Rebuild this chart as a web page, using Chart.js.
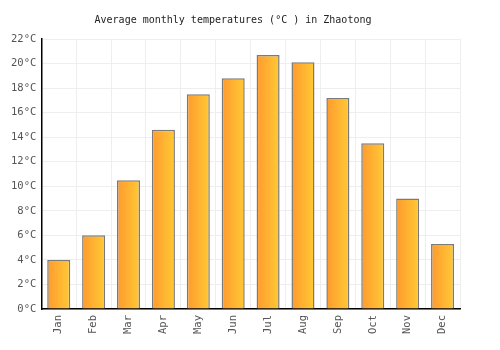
<!DOCTYPE html>
<html>
<head>
<meta charset="utf-8">
<script src="https://cdn.jsdelivr.net/npm/chart.js@4/dist/chart.umd.min.js"></script>
<style>
  html, body { margin: 0; padding: 0; background: #fff; }
  #wrap { width: 500px; height: 350px; }
</style>
</head>
<body>
<div id="wrap"><canvas id="tempChart"></canvas></div>
<script>
const months = ["Jan", "Feb", "Mar", "Apr", "May", "Jun", "Jul", "Aug", "Sep", "Oct", "Nov", "Dec"];
const temps = [4.0, 6.0, 10.5, 14.6, 17.5, 18.8, 20.7, 20.1, 17.2, 13.5, 9.0, 5.3];
const yTicks = [0, 2, 4, 6, 8, 10, 12, 14, 16, 18, 20, 22];
const titleText = "Average monthly temperatures (°C ) in Zhaotong";

const barPct = 0.66;
const tickFont = "10.5px 'DejaVu Sans Mono'";

// horizontal orange -> yellow gradient, one per bar
function barGradient(context) {
  const chart = context.chart;
  const x = chart.scales.x;
  if (!x || context.dataIndex === undefined) return "#ffb030";
  const center = x.getPixelForValue(context.dataIndex);
  const half = (x.width / months.length) * barPct / 2;
  if (!isFinite(center) || !isFinite(half) || half <= 0) return "#ffb030";
  const g = chart.ctx.createLinearGradient(center - half, 0, center + half, 0);
  g.addColorStop(0, "#ff9a2e");
  g.addColorStop(1, "#ffca35");
  return g;
}

// month labels read bottom-to-top, which chart.js rotation can't do
const upLabels = {
  id: "upLabels",
  afterDraw(chart) {
    const c = chart.ctx;
    const x = chart.scales.x;
    const bottom = chart.chartArea.bottom;
    c.save();
    c.font = tickFont;
    c.fillStyle = "#555";
    c.textAlign = "right";
    c.textBaseline = "middle";
    months.forEach((m, i) => {
      c.save();
      c.translate(x.getPixelForValue(i), bottom + 6);
      c.rotate(-Math.PI / 2);
      c.fillText(m, 0, 0);
      c.restore();
    });
    c.restore();
  }
};

const ctx = document.getElementById("tempChart").getContext("2d");
new Chart(ctx, {
  type: "bar",
  data: {
    labels: months,
    datasets: [{
      data: temps,
      backgroundColor: barGradient,
      borderColor: "#7a7a7a",
      borderWidth: 1.5,
      categoryPercentage: barPct,
      barPercentage: 1.0
    }]
  },
  plugins: [upLabels],
  options: {
    responsive: true,
    maintainAspectRatio: false,
    animation: false,
    layout: { padding: { left: 6, right: 40, top: 0, bottom: 41 } },
    plugins: {
      legend: { display: false },
      tooltip: { enabled: false },
      title: {
        display: true,
        text: titleText,
        color: "#222",
        font: { family: "DejaVu Sans Mono", size: 10, weight: "normal" },
        padding: { top: 14, bottom: 13 }
      }
    },
    scales: {
      x: {
        grid: { color: "#eeeeee", offset: true, drawTicks: false },
        border: { color: "#000", width: 1.5 },
        ticks: { display: false }
      },
      y: {
        min: 0,
        max: 22,
        afterBuildTicks: axis => { axis.ticks = yTicks.map(v => ({ value: v })); },
        grid: { color: "#eeeeee", drawTicks: false },
        border: { color: "#000", width: 1.5 },
        ticks: {
          color: "#555",
          font: { family: "DejaVu Sans Mono", size: 10.5 },
          padding: 5,
          callback: v => v + "°C"
        }
      }
    }
  }
});
</script>
</body>
</html>
